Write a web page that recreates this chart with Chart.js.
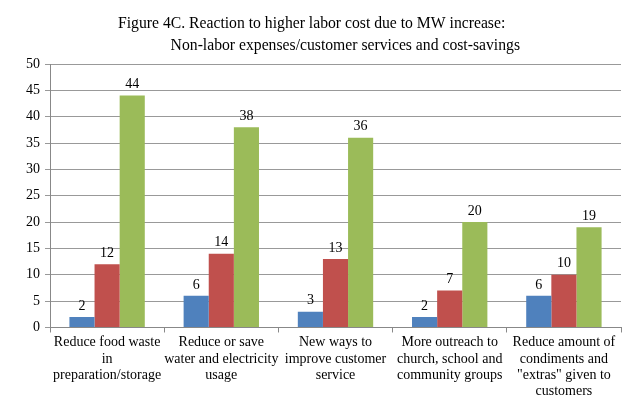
<!DOCTYPE html>
<html>
<head>
<meta charset="utf-8">
<script src="https://cdn.jsdelivr.net/npm/chart.js@4"></script>
<style>
  html, body { margin: 0; padding: 0; background: #fff; }
  #wrap { width: 628px; height: 399px; }
</style>
</head>
<body>
<div id="wrap"><canvas id="chart"></canvas></div>
<script>
const categories = [
  ["Reduce food waste", "in", "preparation/storage"],
  ["Reduce or save", "water and electricity", "usage"],
  ["New ways to", "improve customer", "service"],
  ["More outreach to", "church, school and", "community groups"],
  ["Reduce amount of", "condiments and", "\"extras\" given to", "customers"]
];
const seriesBlue = [2, 6, 3, 2, 6];
const seriesRed = [12, 14, 13, 7, 10];
const seriesGreen = [44, 38, 36, 20, 19];
const titleLines = [
  "Figure 4C. Reaction to higher labor cost due to MW increase:",
  "Non-labor expenses/customer services and cost-savings"
];

const serif = "'Liberation Serif', 'Times New Roman', serif";

// two-line title, second line indented like the original
const titlePlugin = {
  id: 'titleLines',
  afterDraw(chart) {
    const ctx = chart.ctx;
    ctx.save();
    ctx.fillStyle = '#000';
    ctx.font = '15.7px ' + serif;
    ctx.textBaseline = 'alphabetic';
    ctx.textAlign = 'left';
    ctx.fillText(titleLines[0], 118, 28);
    ctx.textAlign = 'right';
    ctx.fillText(titleLines[1], 520, 50);
    ctx.restore();
  }
};

// numbers above each bar
const valueLabels = {
  id: 'valueLabels',
  afterDatasetsDraw(chart) {
    const ctx = chart.ctx;
    ctx.save();
    ctx.fillStyle = '#000';
    ctx.font = '14px ' + serif;
    ctx.textAlign = 'center';
    ctx.textBaseline = 'bottom';
    chart.data.datasets.forEach((ds, i) => {
      chart.getDatasetMeta(i).data.forEach((bar, j) => {
        ctx.fillText(ds.data[j], bar.x, bar.y - 4);
      });
    });
    ctx.restore();
  }
};

new Chart(document.getElementById('chart'), {
  type: 'bar',
  data: {
    labels: categories,
    datasets: [
      { data: seriesBlue, backgroundColor: '#4F81BD' },
      { data: seriesRed, backgroundColor: '#C0504D' },
      { data: seriesGreen, backgroundColor: '#9BBB59' }
    ]
  },
  options: {
    responsive: true,
    maintainAspectRatio: false,
    animation: false,
    events: [],
    layout: { padding: { top: 64, right: 7, left: 21, bottom: -3 } },
    datasets: {
      bar: { barPercentage: 1, categoryPercentage: 0.66 }
    },
    plugins: {
      legend: { display: false },
      title: { display: false },
      tooltip: { enabled: false }
    },
    scales: {
      x: {
        grid: {
          display: true,
          drawOnChartArea: false,
          offset: true,
          tickLength: 5,
          color: '#888'
        },
        border: { color: '#888' },
        ticks: {
          color: '#000',
          font: { family: serif, size: 14, lineHeight: 1.17 },
          maxRotation: 0,
          autoSkip: false,
          padding: 2
        }
      },
      y: {
        min: 0,
        max: 50,
        ticks: {
          stepSize: 5,
          color: '#000',
          font: { family: serif, size: 14 },
          padding: 5
        },
        grid: { color: '#999', tickLength: 5 },
        border: { color: '#888' }
      }
    }
  },
  plugins: [titlePlugin, valueLabels]
});
</script>
</body>
</html>
